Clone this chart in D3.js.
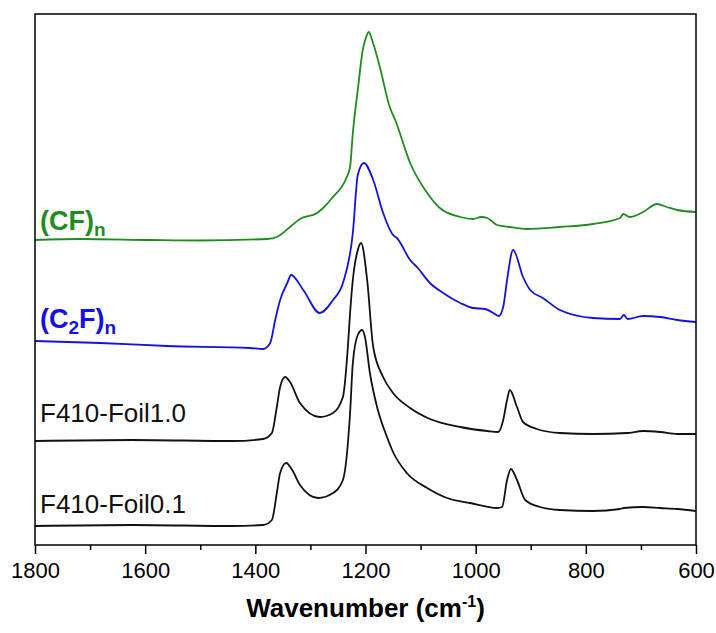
<!DOCTYPE html>
<html>
<head>
<meta charset="utf-8">
<script src="https://cdn.jsdelivr.net/npm/d3@7"></script>
<style>
    body { margin: 0; background: #fff; }
    text { font-family: Arial, "Liberation Sans", sans-serif; }
</style>
</head>
<body>
<svg id="chart" width="716" height="633"></svg>
<script>
// x axis ticks (wavenumber, cm-1)
const majorTicks = [1800, 1600, 1400, 1200, 1000, 800, 600];
const minorTicks = [1700, 1500, 1300, 1100, 900, 700];

// (CF)n - green, stacked on top
const cfWn  = [1800, 1718, 1591, 1500, 1379, 1361, 1337, 1319, 1288, 1277, 1259, 1234, 1228, 1223, 1214, 1205, 1200, 1194, 1188, 1174, 1156, 1146, 1119, 1088, 1065, 1028, 1005, 990, 979, 961, 938, 907, 847, 787, 738, 732, 720, 696, 671, 653, 634, 600];
const cfVal = [305, 306, 305, 304.5, 306, 308, 318, 326, 332, 337, 348, 368, 378, 412, 455, 495, 506, 513, 505, 478, 438, 425, 382, 352, 337, 328, 326, 328, 327, 320, 318, 316, 318, 321, 327, 331, 328, 333, 341, 338, 335, 333];

// (C2F)n - blue
const c2fWn  = [1800, 1682, 1560, 1410, 1386, 1373, 1364, 1355, 1342, 1335, 1313, 1283, 1259, 1241, 1223, 1214, 1203, 1186, 1168, 1150, 1143, 1119, 1105, 1083, 1059, 1028, 1005, 983, 968, 958, 950, 943, 932, 914, 901, 878, 847, 787, 738, 731, 724, 696, 665, 634, 600];
const c2fVal = [204, 202, 199, 197, 196, 202, 225, 245, 262, 270, 255, 232, 245, 262, 312, 370, 382, 365, 332, 310, 307, 285, 277, 262, 252, 242, 237, 236, 232, 229, 238, 265, 295, 268, 255, 247, 235, 227, 226, 230, 226, 229, 228, 225, 223];

// F410-Foil1.0 - black
const foil10Wn  = [1800, 1622, 1441, 1386, 1370, 1361, 1355, 1346, 1337, 1319, 1283, 1259, 1241, 1232, 1228, 1223, 1214, 1208, 1197, 1186, 1168, 1150, 1119, 1083, 1028, 979, 959, 950, 943, 938, 925, 914, 889, 847, 787, 725, 696, 665, 634, 600];
const foil10Val = [104, 105, 104, 106, 112, 138, 158, 168, 163, 142, 128, 132, 148, 198, 232, 265, 295, 302, 265, 198, 168, 152, 137, 126, 118, 114, 113, 125, 145, 155, 138, 123, 116, 112, 111, 112, 114, 113, 111, 111];

// F410-Foil0.1 - black
const foil01Wn  = [1800, 1622, 1441, 1386, 1370, 1361, 1355, 1344, 1333, 1319, 1286, 1259, 1241, 1228, 1223, 1214, 1206, 1201, 1192, 1179, 1161, 1150, 1125, 1088, 1052, 1010, 961, 952, 943, 936, 925, 910, 883, 847, 787, 738, 731, 696, 665, 634, 600];
const foil01Val = [19, 20, 19, 20, 25, 52, 72, 82, 75, 60, 47, 52, 65, 132, 182, 210, 215, 208, 172, 138, 108, 93, 72, 57, 47, 42, 37, 38, 65, 76, 65, 45, 38, 35, 34, 36, 37, 38, 37, 36, 34];

const config = {
    width: 716, height: 633,
    margin: { top: 14, right: 20, bottom: 88, left: 35 }
};

const svg = d3.select("#chart");
const W = config.width, H = config.height, m = config.margin;

const x = d3.scaleLinear().domain([1800, 600]).range([m.left, W - m.right]);
const y = d3.scaleLinear().domain([0, 531]).range([H - m.bottom, m.top]);

const series = [
    { wn: cfWn, val: cfVal, color: "#1f8c1f" },
    { wn: c2fWn, val: c2fVal, color: "#1212e6" },
    { wn: foil10Wn, val: foil10Val, color: "#111" },
    { wn: foil01Wn, val: foil01Val, color: "#111" }
];

const line = d3.line()
    .x(d => x(d[0]))
    .y(d => y(d[1]))
    .curve(d3.curveMonotoneX);

series.forEach(s => {
    svg.append("path")
        .datum(s.wn.map((w, i) => [w, s.val[i]]))
        .attr("fill", "none")
        .attr("stroke", s.color)
        .attr("stroke-width", 1.8)
        .attr("stroke-linejoin", "round")
        .attr("d", line);
});

// X axis - major ticks with labels
svg.append("g")
    .attr("transform", `translate(0, ${H - m.bottom})`)
    .call(d3.axisBottom(x).tickValues(majorTicks).tickSize(9).tickPadding(8).tickFormat(d3.format("d")))
    .call(g => g.select(".domain").remove())
    .call(g => g.selectAll("line").attr("stroke", "#000").attr("stroke-width", 1.5))
    .call(g => g.selectAll("text").attr("font-size", "22px").attr("fill", "#000")
        .attr("font-family", "Arial, 'Liberation Sans', sans-serif"));

// minor ticks
svg.append("g")
    .attr("transform", `translate(0, ${H - m.bottom})`)
    .call(d3.axisBottom(x).tickValues(minorTicks).tickSize(5).tickFormat(""))
    .call(g => g.select(".domain").remove())
    .call(g => g.selectAll("line").attr("stroke", "#000").attr("stroke-width", 1.5));

// frame
svg.append("rect")
    .attr("x", m.left).attr("y", m.top)
    .attr("width", W - m.left - m.right)
    .attr("height", H - m.top - m.bottom)
    .attr("fill", "none")
    .attr("stroke", "#000")
    .attr("stroke-width", 1.5);

// axis title
const title = svg.append("text")
    .attr("x", (m.left + W - m.right) / 2)
    .attr("y", 617)
    .attr("text-anchor", "middle")
    .attr("font-size", "26px")
    .attr("font-weight", "bold");
title.append("tspan").text("Wavenumber (cm");
title.append("tspan").attr("font-size", "16px").attr("dy", -10).text("-1");
title.append("tspan").attr("dy", 10).text(")");

// series labels
function label(parts, yPos, color, weight) {
    const t = svg.append("text")
        .attr("x", 40).attr("y", yPos)
        .attr("fill", color)
        .attr("font-size", weight === "bold" ? "27px" : "26px")
        .attr("font-weight", weight);
    let shift = 0;
    parts.forEach(p => {
        const dy = (p.sub ? 6 : 0) - shift;
        shift = p.sub ? 6 : 0;
        t.append("tspan")
            .attr("dy", dy)
            .attr("font-size", p.sub ? "19px" : null)
            .text(p.t);
    });
}

label([{ t: "(CF)" }, { t: "n", sub: true }], 230, "#1f8c1f", "bold");
label([{ t: "(C" }, { t: "2", sub: true }, { t: "F)" }, { t: "n", sub: true }], 328, "#1212e6", "bold");
label([{ t: "F410-Foil1.0" }], 422, "#111", "normal");
label([{ t: "F410-Foil0.1" }], 513, "#111", "normal");
</script>
</body>
</html>
